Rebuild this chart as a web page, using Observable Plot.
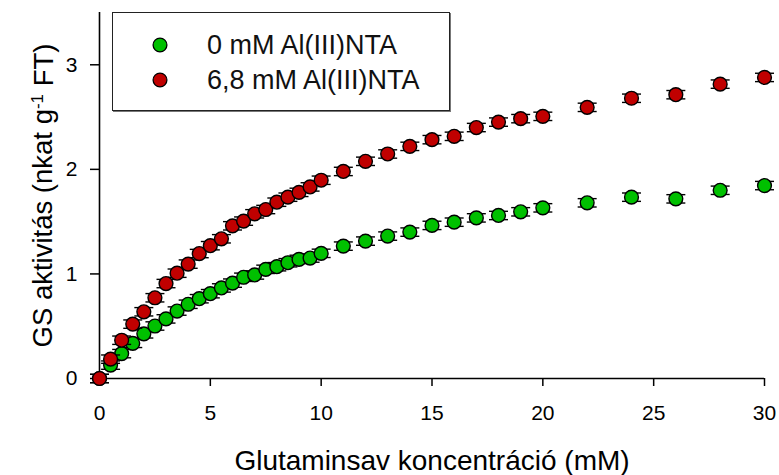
<!DOCTYPE html>
<html>
<head>
<meta charset="utf-8">
<script src="https://cdn.jsdelivr.net/npm/d3@7"></script>
<script src="https://cdn.jsdelivr.net/npm/@observablehq/plot@0.6"></script>
<style>
  html, body { margin: 0; padding: 0; background: #fff; }
  #wrap { position: relative; width: 779px; height: 475px; font-family: "Liberation Sans", Arial, sans-serif; }
  #legend { position: absolute; left: 112px; top: 12px; width: 338px; height: 99px;
            border: 1.5px solid #222; box-shadow: 1px 1px 0 #777; background: #fff; box-sizing: border-box; }
  .lg-dot { position: absolute; left: 39px; }
  .lg-txt { position: absolute; left: 94px; font-size: 27px; line-height: 30px; color: #111; white-space: nowrap; }
</style>
</head>
<body>
<div id="wrap"></div>
<script>
// x: glutamate concentration (mM)
const conc = [0, 0.5, 1, 1.5, 2, 2.5, 3, 3.5, 4, 4.5, 5, 5.5, 6, 6.5, 7, 7.5, 8, 8.5, 9, 9.5, 10,
              11, 12, 13, 14, 15, 16, 17, 18, 19, 20, 22, 24, 26, 28, 30];
// GS activity, 0 mM Al(III)NTA
const gs0 = [0, 0.128, 0.238, 0.336, 0.427, 0.502, 0.570, 0.645, 0.710, 0.763, 0.811, 0.866, 0.912, 0.968, 0.990, 1.044, 1.069, 1.107, 1.139, 1.152, 1.197,
             1.266, 1.314, 1.362, 1.400, 1.464, 1.495, 1.536, 1.559, 1.594, 1.632, 1.680, 1.734, 1.718, 1.800, 1.845];
// GS activity, 6.8 mM Al(III)NTA
const gs68 = [0, 0.185, 0.366, 0.520, 0.638, 0.772, 0.908, 1.007, 1.094, 1.195, 1.270, 1.336, 1.460, 1.505, 1.575, 1.616, 1.686, 1.734, 1.780, 1.832, 1.896,
              1.980, 2.077, 2.147, 2.220, 2.284, 2.316, 2.400, 2.452, 2.485, 2.507, 2.593, 2.680, 2.714, 2.815, 2.879];
// standard errors
const err0 = [0.04, 0.04, 0.04, 0.04, 0.04, 0.04, 0.04, 0.04, 0.04, 0.04, 0.04, 0.04, 0.04, 0.04, 0.04, 0.04, 0.04, 0.04, 0.04, 0.04, 0.04,
              0.04, 0.04, 0.04, 0.04, 0.04, 0.04, 0.04, 0.04, 0.04, 0.04, 0.04, 0.04, 0.04, 0.04, 0.04];
const err68 = [0.04, 0.04, 0.04, 0.04, 0.04, 0.04, 0.04, 0.04, 0.04, 0.04, 0.04, 0.04, 0.04, 0.04, 0.04, 0.04, 0.04, 0.04, 0.04, 0.04, 0.04,
               0.04, 0.04, 0.04, 0.04, 0.04, 0.04, 0.04, 0.04, 0.04, 0.04, 0.04, 0.04, 0.04, 0.04, 0.04];
const seriesNames = ["0 mM Al(III)NTA", "6,8 mM Al(III)NTA"];
const seriesColors = ["#00c000", "#c00000"];
const xTicks = [0, 5, 10, 15, 20, 25, 30];
const yTicks = [0, 1, 2, 3];
const xLabel = "Glutaminsav koncentráció (mM)";
const yLabel = "GS aktivitás (nkat g-1 FT)";

const rows = [];
[gs0, gs68].forEach((vals, s) => {
  const errs = s === 0 ? err0 : err68;
  vals.forEach((v, i) => rows.push({series: seriesNames[s], x: conc[i], y: v, e: errs[i], color: seriesColors[s]}));
});
const green = rows.filter(d => d.series === seriesNames[0]);
const red = rows.filter(d => d.series === seriesNames[1]);

const cap = { draw(ctx, size) { const w = 9.5; ctx.moveTo(-w, 0); ctx.lineTo(w, 0); } };

function seriesMarks(data) {
  return [
    Plot.ruleX(data, {x: "x", y1: d => d.y - d.e, y2: d => d.y + d.e, stroke: "#000", strokeWidth: 1.3}),
    Plot.dot(data, {x: "x", y: d => d.y + d.e, symbol: cap, r: 5, stroke: "#000", strokeWidth: 1.4, fill: "none"}),
    Plot.dot(data, {x: "x", y: d => d.y - d.e, symbol: cap, r: 5, stroke: "#000", strokeWidth: 1.4, fill: "none"}),
    Plot.dot(data, {x: "x", y: "y", r: 6.9, fill: d => d.color, stroke: "#000", strokeWidth: 1.4})
  ];
}

const plot = Plot.plot({
  width: 779, height: 475,
  marginLeft: 99, marginRight: 15, marginTop: 12, marginBottom: 97,
  style: {fontFamily: "'Liberation Sans', Arial, sans-serif", fontSize: "21px", color: "#000", background: "#fff", overflow: "visible"},
  x: {domain: [0, 30]},
  y: {domain: [0, 3.5]},
  marks: [
    Plot.axisX({ticks: xTicks, tickFormat: d3.format("d"), tickSize: 8, tickPadding: 19, fontSize: 21, label: null, strokeWidth: 1.5}),
    Plot.axisY({ticks: yTicks, tickFormat: d3.format("d"), tickSize: 9, tickPadding: 13, fontSize: 21, label: null, strokeWidth: 1.5}),
    Plot.ruleY([0], {x1: 0, x2: 30, stroke: "#000", strokeWidth: 1.6}),
    Plot.ruleX([0], {y1: 0, y2: 3.5, stroke: "#000", strokeWidth: 1.6}),
    Plot.text([xLabel], {frameAnchor: "bottom", lineAnchor: "middle", dy: 83, fontSize: 28, fill: "#000"}),
    Plot.text([yLabel], {frameAnchor: "left", textAnchor: "middle", dx: -56, rotate: -90, fontSize: 27.5, fill: "#000"}),
    ...seriesMarks(green),
    ...seriesMarks(red)
  ]
});

// superscript for "g-1"
d3.select(plot).selectAll("text").each(function() {
  const t = d3.select(this);
  if (t.text() === yLabel) {
    t.text(null);
    t.append("tspan").text("GS aktivitás (nkat g");
    t.append("tspan").attr("font-size", "17px").attr("dy", "-0.55em").text("-1");
    t.append("tspan").attr("dy", "0.35em").text(" FT)");
  }
});

const wrap = document.getElementById("wrap");
wrap.appendChild(plot);

// legend
const legend = document.createElement("div");
legend.id = "legend";
seriesNames.forEach((name, i) => {
  const cy = i === 0 ? 31.5 : 67;
  const dot = document.createElement("div");
  dot.className = "lg-dot";
  dot.style.top = (cy - 8) + "px";
  dot.innerHTML = `<svg width="16" height="16" style="display:block"><circle cx="8" cy="8" r="6.9" fill="${seriesColors[i]}" stroke="#000" stroke-width="1.3"/></svg>`;
  const txt = document.createElement("div");
  txt.className = "lg-txt";
  txt.style.top = (cy - 15) + "px";
  txt.textContent = name;
  legend.appendChild(dot);
  legend.appendChild(txt);
});
wrap.appendChild(legend);
</script>
</body>
</html>
